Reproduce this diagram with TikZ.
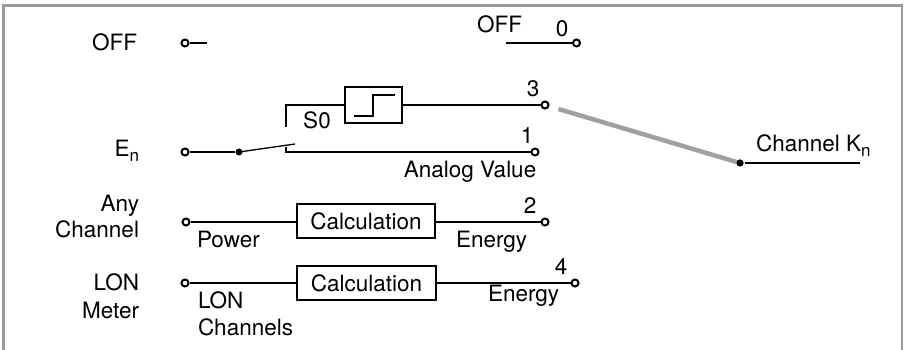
\documentclass[tikz,border=0pt]{standalone}
\usepackage{fontspec}
\setmainfont{TeX Gyre Heros}
\usetikzlibrary{calc}
\definecolor{framegray}{HTML}{9A9A9A}
\definecolor{swgray}{HTML}{A0A0A0}
\begin{document}
\begin{tikzpicture}[x=1pt,y=-1pt,line width=2pt,
  term/.style={circle,draw,fill=white,inner sep=0pt,minimum size=7pt,line width=2pt},
  jdot/.style={circle,fill,inner sep=0pt,minimum size=7pt},
  lbl/.style={inner sep=0pt,font=\fontsize{22.5}{27}\selectfont},
  blk/.style={draw,line width=2pt,inner sep=0pt,font=\fontsize{22.5}{27}\selectfont},
  swline/.style={line width=4.5pt,swgray},
  framestyle/.style={line width=2.2pt,framegray}]
\useasboundingbox (0,0) rectangle (905,350);
\draw[framestyle] (3.5,360) -- (3.5,5.5) -- (902,5.5) -- (902,360);

% OFF rows
\node[lbl,anchor=base east] (offL) at (138,51) {OFF};
\node[term] (oOff) at (185,43) {};
\coordinate (oOffE) at (207,43);
\draw (oOff) -- (oOffE);

\node[lbl,anchor=base west] (offR) at (476,33) {OFF};
\node[lbl,anchor=base] (n0) at (562,37) {0};
\node[term] (t0) at (576.5,43) {};
\coordinate (t0s) at (506,43);
\draw (t0s) -- (t0);

% E_n row with switch
\node[lbl,anchor=base east] (enL) at (140,157) {E\raisebox{-0.35ex}{\fontsize{17}{17}\selectfont n}};
\node[term] (en) at (185,152) {};
\node[jdot] (sw) at (239,152) {};
\coordinate (blade) at (295,144);
\draw (en) -- (sw);
\draw[line width=1.3pt] (sw.center) -- (blade);
\coordinate (c1) at (286,147.5);
\node[term] (t1) at (535,152) {};
\draw (c1) |- (t1);
\node[lbl,anchor=base] (n1) at (527,143) {1};
\node[lbl,anchor=base] (analog) at (470,177) {Analog Value};

\node[blk,minimum width=57pt,minimum height=36pt] (hyst) at (373.5,105) {};
\draw ($(hyst.center)+(-19.5,11)$) -| ($(hyst.center)+(-0.5,-10)$) -- ($(hyst.center)+(21.5,-10)$);
\coordinate (c3) at (286,127);
\draw (c3) |- (hyst.west);
\node[lbl,anchor=base] (s0) at (317,129) {S0};
\node[term] (t3) at (545,105) {};
\draw (hyst) -- (t3);
\node[lbl,anchor=base] (n3) at (533,97) {3};

% Channel K_n
\node[jdot] (kn) at (740,163) {};
\coordinate (knE) at (860,163);
\draw (kn) -- (knE);
\draw[swline] ($(t3)!14pt!(kn)$) -- (kn.center);
\node[jdot] at (kn) {};
\node[lbl,anchor=base west] (knL) at (755,152) {Channel K\raisebox{-0.35ex}{\fontsize{17}{17}\selectfont n}};

% Any Channel row
\node[lbl,anchor=base east] (anyL1) at (140,211) {Any};
\node[lbl,anchor=base east] (anyL2) at (140,237) {Channel};
\node[term] (oAny) at (186,222) {};
\node[blk,minimum width=138pt,minimum height=34pt] (calc1) at (366,221) {Calculation};
\node[term] (t2) at (545,222) {};
\draw (oAny) -- (oAny -| calc1.west);
\draw (calc1.east |- t2) -- (t2);
\node[lbl,anchor=base] (n2) at (530,213) {2};
\node[lbl,anchor=base west] (power) at (196,247) {Power};
\node[lbl,anchor=base west] (energy1) at (455,247) {Energy};

% LON Meter row
\node[lbl,anchor=base east] (lonL1) at (140,290) {LON};
\node[lbl,anchor=base east] (lonL2) at (140,318) {Meter};
\node[term] (oLon) at (185,283) {};
\node[blk,minimum width=139pt,minimum height=34pt] (calc2) at (366.5,283) {Calculation};
\node[term] (t4) at (575,283) {};
\draw (oLon) -- (oLon -| calc2.west);
\draw (calc2.east |- t4) -- (t4);
\node[lbl,anchor=base] (n4) at (561,274) {4};
\node[lbl,anchor=base west] (lonC1) at (197,308) {LON};
\node[lbl,anchor=base west] (lonC2) at (197,335) {Channels};
\node[lbl,anchor=base west] (energy2) at (487,301) {Energy};
\end{tikzpicture}
\end{document}
